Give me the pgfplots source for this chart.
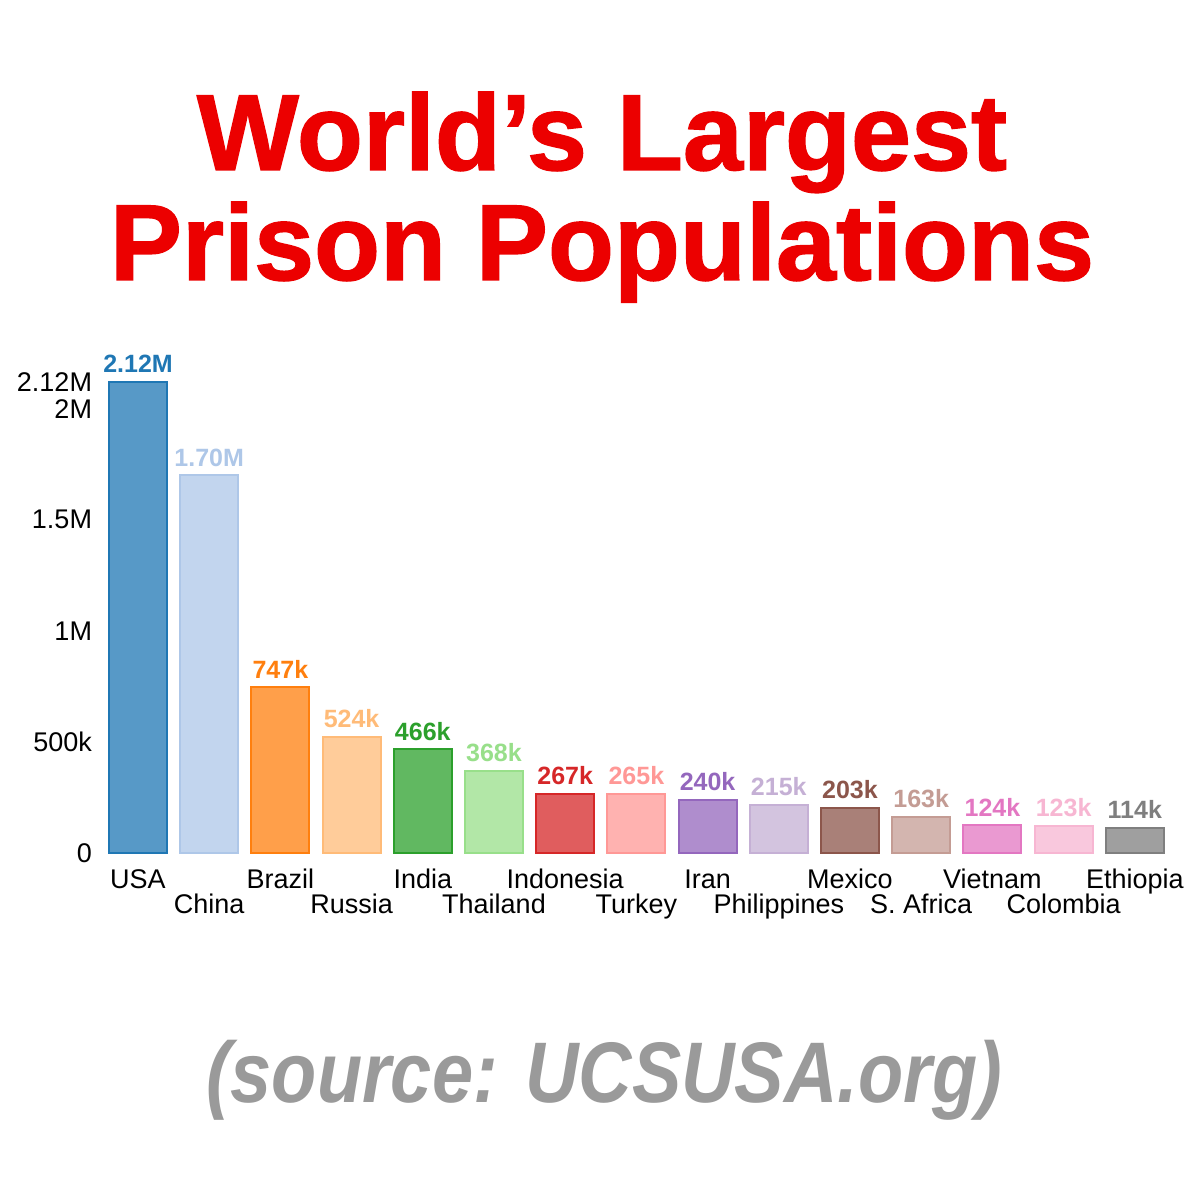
\documentclass[border=0pt]{standalone}
\usepackage{fontspec}
\setmainfont{Liberation Sans}
\newfontface\titlefont[FakeBold=1.3]{Liberation Sans Bold}
\usepackage{pgfplots}
\pgfplotsset{compat=1.18}
\definecolor{c0}{HTML}{1F77B4}
\definecolor{c1}{HTML}{AEC7E8}
\definecolor{c2}{HTML}{FF7F0E}
\definecolor{c3}{HTML}{FFBB78}
\definecolor{c4}{HTML}{2CA02C}
\definecolor{c5}{HTML}{98DF8A}
\definecolor{c6}{HTML}{D62728}
\definecolor{c7}{HTML}{FF9896}
\definecolor{c8}{HTML}{9467BD}
\definecolor{c9}{HTML}{C5B0D5}
\definecolor{c10}{HTML}{8C564B}
\definecolor{c11}{HTML}{C49C94}
\definecolor{c12}{HTML}{E377C2}
\definecolor{c13}{HTML}{F7B6D2}
\definecolor{c14}{HTML}{7F7F7F}
\definecolor{titlered}{RGB}{236,0,0}
\definecolor{srcgray}{RGB}{154,154,154}
\pgfplotsset{
  cbar/.style={draw=#1, fill=#1!75!white, line width=1pt,
    nodes near coords, point meta=explicit symbolic,
    every node near coord/.style={color=#1, font=\fontsize{12.5}{14}\selectfont\bfseries, anchor=south, inner sep=0pt, yshift=4pt}}
}
\begin{document}
\begin{tikzpicture}
\useasboundingbox[fill=white] (0,0) rectangle (600pt,600pt);
\node[anchor=base, text=titlered, inner sep=0pt] at (301pt,515pt) {\titlefont\fontsize{54}{60}\selectfont World’s Largest};
\node[anchor=base, text=titlered, inner sep=0pt] at (301pt,460pt) {\titlefont\fontsize{54}{60}\selectfont Prison Populations};
\node[anchor=base, text=srcgray, inner sep=0pt, xscale=0.86] at (302pt,48.5pt) {\fontsize{43}{48}\selectfont\bfseries\itshape (source: UCSUSA.org)};
\begin{axis}[
  at={(51.2pt,173.5pt)}, anchor=south west,
  scale only axis, width=534pt, height=235.5pt,
  xmin=-0.5, xmax=14.5, ymin=0, ymax=2120000,
  ybar, bar width=29pt, bar shift=0pt,
  axis line style={draw=none}, major tick length=0pt,
  clip=false, scaled y ticks=false,
  /pgf/number format/assume math mode=true,
  ytick={0,500000,1000000,1500000,2000000,2120000},
  yticklabels={0,500k,1M,1.5M,2M,2.12M},
  yticklabel style={anchor=east, inner sep=0pt, xshift=-5pt, font=\fontsize{13.5}{15}\selectfont},
  xtick={0,2,4,6,8,10,12,14},
  xticklabels={USA,Brazil,India,Indonesia,Iran,Mexico,Vietnam,Ethiopia},
  xticklabel style={anchor=base, inner sep=0pt, yshift=-18pt, font=\fontsize{13.5}{15}\selectfont},
  extra x ticks={1,3,5,7,9,11,13},
  extra x tick labels={China,Russia,Thailand,Turkey,Philippines,S. Africa,Colombia},
  extra x tick style={major tick length=0pt, xticklabel style={yshift=-12.5pt}},
]
\addplot[cbar=c0] coordinates {(0,2120000) [2.12M]};
\addplot[cbar=c1] coordinates {(1,1700000) [1.70M]};
\addplot[cbar=c2] coordinates {(2,747000) [747k]};
\addplot[cbar=c3] coordinates {(3,524000) [524k]};
\addplot[cbar=c4] coordinates {(4,466000) [466k]};
\addplot[cbar=c5] coordinates {(5,368000) [368k]};
\addplot[cbar=c6] coordinates {(6,267000) [267k]};
\addplot[cbar=c7] coordinates {(7,265000) [265k]};
\addplot[cbar=c8] coordinates {(8,240000) [240k]};
\addplot[cbar=c9] coordinates {(9,215000) [215k]};
\addplot[cbar=c10] coordinates {(10,203000) [203k]};
\addplot[cbar=c11] coordinates {(11,163000) [163k]};
\addplot[cbar=c12] coordinates {(12,124000) [124k]};
\addplot[cbar=c13] coordinates {(13,123000) [123k]};
\addplot[cbar=c14] coordinates {(14,114000) [114k]};
\end{axis}
\end{tikzpicture}
\end{document}
